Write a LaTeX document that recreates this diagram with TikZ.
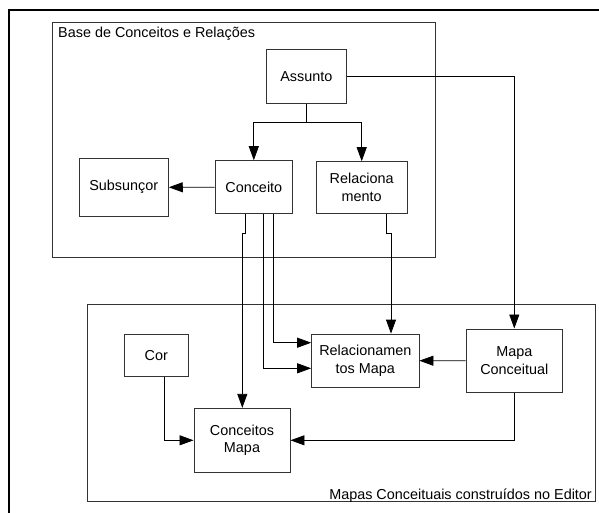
\documentclass[tikz,border=0pt]{standalone}
\usepackage{fontspec}
\setmainfont{Liberation Sans}
\usetikzlibrary{arrows.meta}
\begin{document}
\begin{tikzpicture}[x=1pt,y=-1pt,
  txt/.style={font=\fontsize{14.4}{17.4}\selectfont},
  box/.style={txt, draw=black!80, line width=0.9pt, inner sep=0pt, align=center},
  frame/.style={draw=black!80, line width=0.9pt, inner sep=0pt},
  conn/.style={line width=0.8pt, -{Triangle[length=14pt,width=10pt]}},
  plain/.style={line width=0.8pt}]
\useasboundingbox (0,0) rectangle (599,513);
\clip (0,0) rectangle (599,513);
\fill[white] (0,0) rectangle (599,513);
\draw[line width=2pt] (9,10) rectangle (612,530);

% containers
\node[frame, minimum width=383.3, minimum height=235, anchor=north west] (base) at (51.7,21.7) {};
\node[txt, inner sep=0pt, anchor=base west] (baselbl) at (58,38) {Base de Conceitos e Relações};
\node[frame, minimum width=508.3, minimum height=196.4, anchor=north west] (editor) at (86.7,304.3) {};
\node[txt, inner sep=0pt, anchor=base east] (editorlbl) at (592,499.5) {Mapas Conceituais construídos no Editor};

% boxes
\node[box, minimum width=80.7, minimum height=54] (Assunto) at (306.3,76.3) {Assunto};
\node[box, minimum width=77.7, minimum height=53] (Conceito) at (253.8,187.2) {Conceito};
\node[box, minimum width=91.3, minimum height=51.6] (Rel) at (361.7,187.5) {Relaciona\\mento};
\node[box, minimum width=89, minimum height=57.3] (Sub) at (123.8,187.3) {Subsunçor};
\node[box, minimum width=64, minimum height=42.7] (Cor) at (156.3,355.3) {Cor};
\node[box, minimum width=96, minimum height=64] (CM) at (242,440.3) {Conceitos\\Mapa};
\node[box, minimum width=107.3, minimum height=53.3] (RM) at (365.3,360.7) {Relacionamen\\tos Mapa};
\node[box, minimum width=96.7, minimum height=63.7] (MC) at (514.3,360.8) {Mapa\\Conceitual};

% helper coordinates
\coordinate (j) at (306.3,122.7);
\coordinate (r1) at (386,233);
\coordinate (r2) at (391,233);
\coordinate (a1) at (245,233);
\coordinate (a2) at (242.3,233);
\coordinate (b1) at (263,368.3);
\coordinate (c1) at (273.3,342.7);
\coordinate (k) at (164.3,441);

% connectors
\draw[plain] (Assunto.south) -- (j);
\draw[conn] (j) -| (Conceito.north);
\draw[conn] (j) -| (Rel.north);
\draw[conn] (Conceito.west) -- (Sub.east);
\draw[conn] (Assunto.east) -| (MC.north);
\draw[conn] (Rel.south -| r1) -- (r1) -- (r2) -- (RM.north -| r2);
\draw[conn] (Conceito.south -| a1) -- (a1) -- (a2) -- (CM.north -| a2);
\draw[conn] (Conceito.south -| b1) |- (RM.west |- b1);
\draw[conn] (Conceito.south -| c1) |- (RM.west |- c1);
\draw[conn] (MC.west) -- (RM.east);
\draw[conn] (MC.south) |- (CM.east);
\draw[conn] (Cor.south -| k) |- (CM.west);
\end{tikzpicture}
\end{document}
